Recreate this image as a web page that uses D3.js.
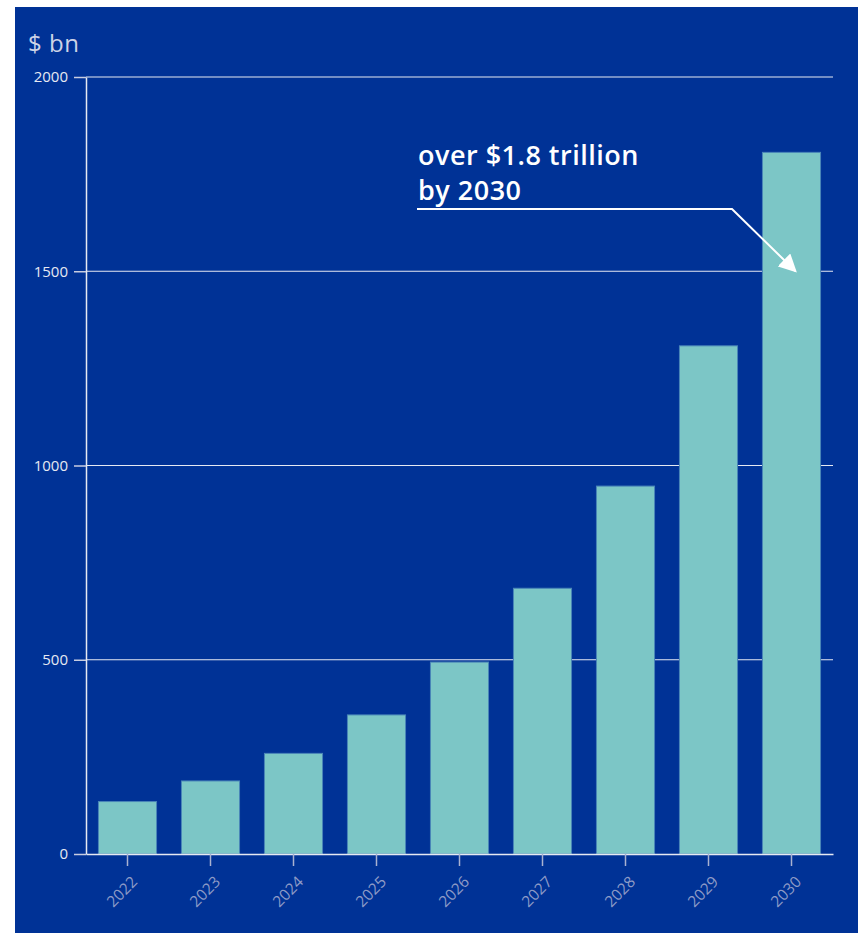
<!DOCTYPE html>
<html>
<head>
<meta charset="utf-8">
<script src="https://cdn.jsdelivr.net/npm/d3@7"></script>
<style>
  body { margin: 0; background: #fff; font-family: "Open Sans", sans-serif; }
</style>
</head>
<body>
<script>
// chart data
const years = ["2022", "2023", "2024", "2025", "2026", "2027", "2028", "2029", "2030"]
const values = [135, 188, 259, 358, 494, 684, 947, 1308, 1806]
const yTicks = [0, 500, 1000, 1500, 2000]
const noteLines = ["over $1.8 trillion", "by 2030"]

const w = 858
const h = 933
const padLeft = 86
const padRight = 833
const padTop = 77
const padBottom = 854

const svg = d3.select("body")
              .append("svg")
              .attr("width", w)
              .attr("height", h)

svg.append("rect")
   .attr("x", 15)
   .attr("y", 7)
   .attr("width", w - 15)
   .attr("height", h - 7)
   .attr("fill", "#003296")

const x = d3.scaleBand()
            .domain(years)
            .range([padLeft, padRight])
            .paddingInner(0.3)
            .paddingOuter(0.15)

const y = d3.scaleLinear()
            .domain([0, 2000])
            .range([padBottom, padTop])

// gridlines
svg.selectAll(".grid")
   .data(yTicks.slice(1))
   .enter()
   .append("line")
   .attr("x1", padLeft)
   .attr("x2", padRight)
   .attr("y1", (d) => y(d))
   .attr("y2", (d) => y(d))
   .attr("stroke", "#e6e9f2")
   .attr("stroke-width", 1.2)

// bars
svg.selectAll(".bar")
   .data(values)
   .enter()
   .append("rect")
   .attr("x", (d, i) => x(years[i]))
   .attr("y", (d) => y(d))
   .attr("width", x.bandwidth())
   .attr("height", (d) => padBottom - y(d))
   .attr("fill", "#7cc6c6")
   .attr("stroke", "#4a86b8")
   .attr("stroke-width", 1)

// y axis
const yAxis = svg.append("g")
                 .attr("transform", "translate(" + padLeft + ",0)")
                 .call(d3.axisLeft(y).tickValues(yTicks).tickFormat(d3.format("d"))
                         .tickSizeInner(12).tickSizeOuter(0).tickPadding(6))
yAxis.select(".domain").attr("stroke", "#e6e9f2").attr("stroke-width", 1.5)
yAxis.selectAll(".tick line").attr("stroke", "#c8cde0").attr("stroke-width", 1.5)
yAxis.selectAll("text")
     .attr("fill", "#e6e9f2")
     .style("font-family", "Open Sans")
     .style("font-size", "15px")

// x axis
const xAxis = svg.append("g")
                 .attr("transform", "translate(0," + padBottom + ")")
                 .call(d3.axisBottom(x).tickSizeInner(12).tickSizeOuter(0))
xAxis.select(".domain").attr("stroke", "#e6e9f2").attr("stroke-width", 1.5)
xAxis.selectAll(".tick line").attr("stroke", "#aab2d0").attr("stroke-width", 1.5)
xAxis.selectAll("text")
     .attr("fill", "#8e9bc6")
     .style("font-family", "Open Sans")
     .style("font-size", "15.5px")
     .attr("text-anchor", "end")
     .attr("transform", "translate(7,25) rotate(-45)")
     .attr("dy", "0.35em")
     .attr("y", 0)

// unit label
svg.append("text")
   .text("$ bn")
   .attr("x", 28)
   .attr("y", 52)
   .attr("fill", "#cdd3e6")
   .style("font-family", "Open Sans")
   .style("font-size", "24px")
   .style("letter-spacing", "0.5px")

// annotation
svg.selectAll(".note")
   .data(noteLines)
   .enter()
   .append("text")
   .text((d) => d)
   .attr("x", 418)
   .attr("y", (d, i) => 165 + i * 35)
   .attr("fill", "#ffffff")
   .style("font-family", "Open Sans")
   .style("font-weight", "600")
   .style("font-size", "27px")
   .style("letter-spacing", "0.5px")

svg.append("defs")
   .append("marker")
   .attr("id", "arrow")
   .attr("viewBox", "0 0 10 10")
   .attr("refX", 9)
   .attr("refY", 5)
   .attr("markerWidth", 9)
   .attr("markerHeight", 9)
   .attr("orient", "auto")
   .append("path")
   .attr("d", "M0,0 L10,5 L0,10 z")
   .attr("fill", "#ffffff")

const tipX = x("2030") + x.bandwidth() * 0.57
svg.append("path")
   .attr("d", "M417," + 209 + " L732," + 209 + " L" + tipX + "," + y(1500))
   .attr("fill", "none")
   .attr("stroke", "#ffffff")
   .attr("stroke-width", 2)
   .attr("marker-end", "url(#arrow)")
</script>
</body>
</html>
